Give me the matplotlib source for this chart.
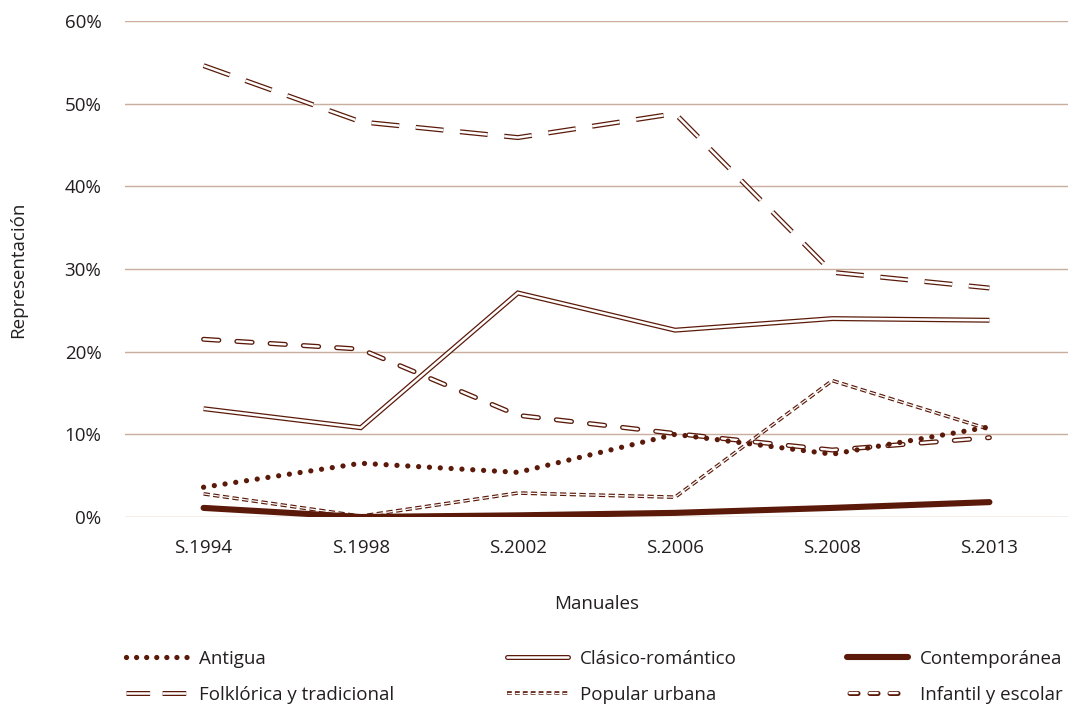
import matplotlib
matplotlib.use("Agg")
import matplotlib.pyplot as plt
from matplotlib.lines import Line2D
from matplotlib.legend_handler import HandlerTuple

plt.rcParams['font.family'] = ['Open Sans', 'DejaVu Sans']
plt.rcParams['lines.scale_dashes'] = False

categories = ["S.1994", "S.1998", "S.2002", "S.2006", "S.2008", "S.2013"]
antigua = [3.6, 6.5, 5.4, 10.0, 7.6, 10.9]
clasico = [13.1, 10.8, 27.1, 22.6, 24.0, 23.8]
contemporanea = [1.1, 0.0, 0.2, 0.5, 1.1, 1.8]
folklorica = [54.6, 47.8, 45.9, 48.8, 29.6, 27.7]
popular = [2.8, 0.1, 2.9, 2.4, 16.5, 10.6]
infantil = [21.5, 20.3, 12.3, 10.1, 8.1, 9.6]
yticks = [0, 10, 20, 30, 40, 50, 60]

DARK = '#5b1a09'
GRID = '#c9ad9e'
TXT = '#231f20'
FS = 13.5

fig = plt.figure(figsize=(10.68, 7.08), dpi=100)
ax = fig.add_axes([125/1068, 1-517/708, 1-125/1068, (517-21)/708])
x = list(range(len(categories)))

for v in yticks:
    ax.axhline(v, color=GRID, lw=1.0, zorder=0)

STY = {
    'folk': dict(lw_out=3.6, lw_in=1.8, ls=(0, (20, 12)), cap='butt'),
    'clas': dict(lw_out=3.6, lw_in=1.8, ls='-', cap='butt'),
    'inf': dict(lw_out=3.6, lw_in=1.7, ls=(0, (11, 13)), cap='round'),
    'pop': dict(lw_out=2.6, lw_in=0.9, ls=(0, (4.5, 2.5)), cap='butt'),
}

def double(y, lw_out, lw_in, ls, cap='butt', z=2):
    ax.plot(x, y, color=DARK, lw=lw_out, ls=ls, solid_capstyle=cap,
            dash_capstyle=cap, solid_joinstyle='miter', zorder=z)
    ax.plot(x, y, color='white', lw=lw_in, ls=ls, solid_capstyle=cap,
            dash_capstyle=cap, solid_joinstyle='miter', zorder=z + 0.1)

def proxy(lw_out, lw_in, ls, cap='butt'):
    a = Line2D([], [], color=DARK, lw=lw_out, ls=ls, solid_capstyle=cap,
               dash_capstyle=cap)
    b = Line2D([], [], color='white', lw=lw_in, ls=ls, solid_capstyle=cap,
               dash_capstyle=cap)
    return (a, b)

double(folklorica, z=2, **STY['folk'])
double(clasico, z=2.3, **STY['clas'])
double(infantil, z=2.6, **STY['inf'])
double(popular, z=2.9, **STY['pop'])
ax.plot(x, antigua, color=DARK, lw=3.8, ls=(0, (0.01, 7.8)),
        dash_capstyle='round', zorder=3.3)
ax.plot(x, contemporanea, color=DARK, lw=4.4, solid_capstyle='round',
        zorder=3.5)

h_ant = Line2D([], [], color=DARK, lw=3.8, ls=(0, (0.01, 7.25)),
               dash_capstyle='round')
h_con = Line2D([], [], color=DARK, lw=4.4, solid_capstyle='round')
h_folk = proxy(3.6, 1.8, (0, (17, 9)))
h_clas = proxy(3.6, 1.8, '-', cap='round')
h_inf = proxy(3.6, 1.7, (-1.8, (5.8, 8.6)), cap='round')
h_pop = proxy(2.6, 0.9, (0, (3.5, 2.2)))

ax.set_xlim(-0.5, 5.5)
ax.set_ylim(0, 60)
ax.set_yticks(yticks)
ax.set_yticklabels([f"{v}%" for v in yticks])
ax.set_xticks(x)
ax.set_xticklabels(categories)
ax.tick_params(axis='both', length=0, labelsize=FS, colors=TXT)
ax.tick_params(axis='y', pad=17)
ax.tick_params(axis='x', pad=16)
for s in ax.spines.values():
    s.set_visible(False)
ax.set_xlabel("Manuales", fontsize=FS, color=TXT, labelpad=27)
fig.text(18/1068, 1-270/708, "Representación", rotation=90, fontsize=FS,
         color=TXT, ha='center', va='center')

hm = {tuple: HandlerTuple(ndivide=1, pad=0)}
cols = [
    ([h_ant, h_folk], ["Antigua", "Folklórica y tradicional"], 126),
    ([h_clas, h_pop], ["Clásico-romántico", "Popular urbana"], 507),
    ([h_con, h_inf], ["Contemporánea", "Infantil y escolar"], 847),
]
for hs, labs, xp in cols:
    fig.legend(hs, labs, handler_map=hm, loc='upper left',
               bbox_to_anchor=(xp/1068, 1-650/708), frameon=False,
               fontsize=FS, handlelength=3.25, handletextpad=0.62,
               labelspacing=0.95, borderaxespad=0, borderpad=0,
               labelcolor=TXT)

fig.savefig("out.png", dpi=100)
